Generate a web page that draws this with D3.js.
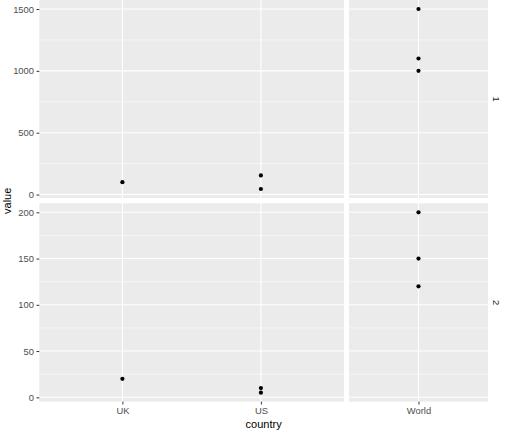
<!DOCTYPE html>
<html><head><meta charset="utf-8">
<script src="https://cdn.jsdelivr.net/npm/d3@7"></script>
<style>body{margin:0;background:#fff;}svg{display:block;font-family:"Liberation Sans",Arial,sans-serif;}</style>
</head><body>
<svg id="c" width="507" height="431"></svg>
<script>
const countries = ["UK","US","US","World","World","World","UK","US","US","World","World","World"];
const facets    = ["1","1","1","1","1","1","2","2","2","2","2","2"];
const values    = [100,155,45,1500,1100,1000, 20,10,5,200,150,120];
const colGroups = [["UK","US"],["World"]];
const rowLabels = ["1","2"];
const yTicks = {"1":[0,500,1000,1500], "2":[0,50,100,150,200]};
const yMinor = {"1":[250,750,1250], "2":[25,75,125,175]};

const data = countries.map((c,i)=>({country:c, facet:facets[i], value:values[i]}));
const svg = d3.select("#c");

const colX = [[39.3,344],[349,488]];
const rowY = [[0,198],[203.3,401.7]];

rowLabels.forEach((r,ri)=>{
  const vals = data.filter(d=>d.facet===r).map(d=>d.value);
  const mn = d3.min(vals), mx = d3.max(vals), pad=(mx-mn)*0.05;
  const y = d3.scaleLinear().domain([mn-pad,mx+pad]).range([rowY[ri][1],rowY[ri][0]]);
  colGroups.forEach((cg,ci)=>{
    const x = d3.scalePoint().domain(cg).range(colX[ci]).padding(0.6);
    const g = svg.append("g");
    const [x0,x1]=colX[ci], [y0,y1]=rowY[ri];
    g.append("rect").attr("x",x0).attr("y",y0).attr("width",x1-x0).attr("height",y1-y0).attr("fill","#EBEBEB");
    g.selectAll(".mn").data(yMinor[r]).join("line").attr("x1",x0).attr("x2",x1)
      .attr("y1",d=>y(d)).attr("y2",d=>y(d)).attr("stroke","#fff").attr("stroke-width",0.55);
    g.selectAll(".mj").data(yTicks[r]).join("line").attr("x1",x0).attr("x2",x1)
      .attr("y1",d=>y(d)).attr("y2",d=>y(d)).attr("stroke","#fff").attr("stroke-width",1.1);
    g.selectAll(".vx").data(cg).join("line").attr("x1",d=>x(d)).attr("x2",d=>x(d))
      .attr("y1",y0).attr("y2",y1).attr("stroke","#fff").attr("stroke-width",1.1);
    g.selectAll("circle").data(data.filter(d=>d.facet===r && cg.includes(d.country))).join("circle")
      .attr("cx",d=>x(d.country)).attr("cy",d=>y(d.value)).attr("r",2.1).attr("fill","#000");
    if(ci===0){
      const ax = svg.append("g").attr("transform",`translate(${x0},0)`)
        .call(d3.axisLeft(y).tickValues(yTicks[r]).tickFormat(d3.format("d")).tickSize(2.8).tickPadding(2.5));
      ax.select(".domain").remove();
      ax.selectAll("line").attr("stroke","#333");
      ax.selectAll("text").attr("fill","#4D4D4D").style("font-size","9.4px").style("font-family","Liberation Sans, Arial, sans-serif");
    }
    if(ri===rowLabels.length-1){
      const ax = svg.append("g").attr("transform",`translate(0,${y1})`)
        .call(d3.axisBottom(x).tickSize(2.8).tickPadding(3));
      ax.select(".domain").remove();
      ax.selectAll("line").attr("stroke","#333");
      ax.selectAll("text").attr("fill","#4D4D4D").style("font-size","9.4px").style("font-family","Liberation Sans, Arial, sans-serif");
    }
  });
  const cy=(rowY[ri][0]+rowY[ri][1])/2;
  svg.append("text").attr("transform",`translate(496,${cy}) rotate(90)`).attr("text-anchor","middle")
    .attr("dy","0.35em").attr("fill","#1A1A1A").style("font-size","9.4px").text(r);
});

svg.append("text").attr("x",(39.3+488)/2).attr("y",428).attr("text-anchor","middle")
  .style("font-size","11px").attr("fill","#000").text("country");
svg.append("text").attr("transform",`translate(11,${(0+401.7)/2}) rotate(-90)`).attr("text-anchor","middle")
  .style("font-size","11px").attr("fill","#000").text("value");
</script>
</body></html>
